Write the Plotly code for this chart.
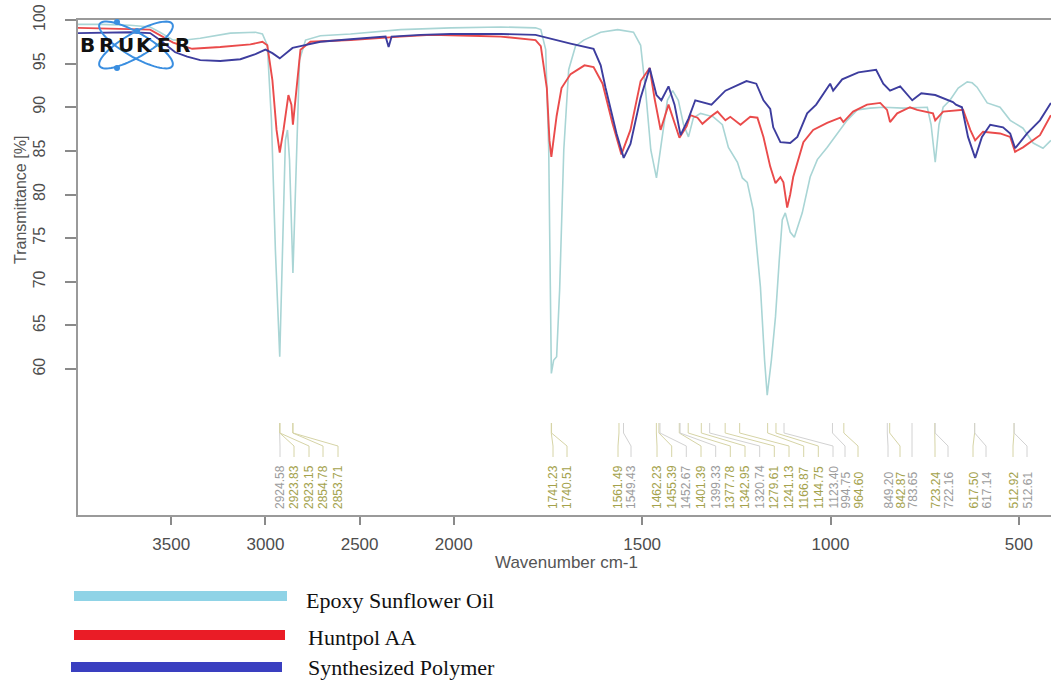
import numpy as np
import plotly.graph_objects as go

# ---------------- data ----------------
esf_wn = [3995, 3878, 3718, 3612, 3560, 3490, 3425, 3346, 3186, 3053, 3016, 2990, 2968, 2947, 2924, 2910,
          2894, 2883, 2872, 2854, 2835, 2819, 2787, 2708, 2548, 2282, 2016, 1875, 1783, 1769, 1756, 1748,
          1741, 1735, 1727, 1719, 1708, 1695, 1677, 1655, 1610, 1565, 1523, 1504, 1491, 1477, 1462, 1451,
          1433, 1419, 1404, 1390, 1377, 1364, 1345, 1311, 1287, 1271, 1247, 1234, 1221, 1205, 1186, 1175,
          1168, 1157, 1146, 1136, 1128, 1120, 1107, 1096, 1085, 1075, 1054, 1035, 1009, 974, 956, 929,
          895, 860, 807, 743, 733, 722, 712, 701, 683, 661, 637, 624, 611, 584, 550, 523, 489, 462, 436, 415]
esf_t = [99.5, 99.5, 99.4, 99.2, 98.6, 97.7, 97.7, 97.9, 98.5, 98.6, 98.4, 97.1, 88.5, 73.6, 61.4, 73.6,
         86.2, 87.4, 84.0, 71.0, 85.1, 95.4, 97.7, 98.2, 98.4, 98.9, 99.1, 99.2, 99.1, 98.9, 96.6, 85.1,
         59.5, 61.0, 61.4, 69.1, 85.1, 94.3, 97.0, 97.7, 98.6, 98.9, 98.6, 97.1, 92.0, 85.1, 81.9, 85.1,
         90.8, 91.9, 90.8, 88.0, 86.6, 88.8, 89.3, 88.9, 88.0, 85.4, 83.7, 81.9, 81.4, 78.2, 69.4, 61.0,
         57.0, 61.0, 66.0, 72.5, 77.1, 77.9, 75.7, 75.1, 76.5, 77.9, 82.0, 84.0, 85.4, 87.4, 88.5, 89.7,
         89.9, 90.0, 89.9, 90.0, 88.0, 83.7, 88.0, 90.0, 90.8, 92.2, 92.9, 92.8, 92.3, 90.5, 90.0, 88.5,
         87.6, 85.9, 85.3, 86.2]

hunt_wn = [3995, 3718, 3612, 3490, 3389, 3240, 3080, 3016, 2990, 2963, 2941, 2924, 2904, 2878, 2862, 2854,
           2835, 2814, 2761, 2548, 2282, 2122, 1955, 1875, 1783, 1769, 1753, 1746, 1741, 1735, 1727, 1714,
           1690, 1653, 1629, 1605, 1579, 1555, 1531, 1504, 1480, 1467, 1451, 1430, 1414, 1401, 1382, 1372,
           1353, 1340, 1316, 1300, 1279, 1266, 1239, 1213, 1194, 1178, 1160, 1146, 1133, 1125, 1115, 1107,
           1099, 1072, 1046, 1009, 974, 966, 940, 903, 868, 850, 842, 823, 789, 770, 728, 722, 701, 648,
           629, 616, 595, 550, 523, 510, 489, 444, 415]
hunt_t = [99.1, 99.0, 98.9, 97.4, 96.7, 96.9, 97.2, 97.5, 97.1, 93.1, 87.4, 84.8, 87.4, 91.4, 90.3, 88.0,
          92.0, 96.6, 97.5, 97.7, 98.1, 98.3, 98.2, 98.1, 97.7, 97.0, 92.2, 86.2, 84.3, 86.2, 89.0, 92.2,
          93.8, 94.8, 94.6, 92.7, 88.2, 84.6, 87.4, 93.0, 94.5, 91.0, 87.4, 90.3, 88.2, 86.5, 87.8, 89.1,
          88.8, 88.1, 89.0, 89.5, 88.5, 88.9, 88.0, 88.9, 88.8, 86.6, 83.2, 81.3, 82.0, 81.4, 78.5, 80.0,
          82.0, 86.0, 87.4, 88.2, 88.8, 88.3, 89.5, 90.3, 90.5, 89.7, 88.3, 89.3, 90.0, 89.7, 89.3, 88.5,
          89.5, 89.7, 87.4, 86.2, 87.2, 87.0, 86.6, 84.9, 85.4, 86.8, 89.1]

poly_wn = [3995, 3718, 3612, 3560, 3479, 3415, 3346, 3240, 3133, 3053, 3000, 2963, 2924, 2894, 2856, 2814,
           2708, 2548, 2362, 2346, 2330, 2176, 2016, 1875, 1783, 1690, 1653, 1629, 1610, 1597, 1568, 1549,
           1531, 1504, 1480, 1462, 1449, 1430, 1414, 1398, 1377, 1359, 1316, 1279, 1223, 1197, 1178, 1160,
           1152, 1133, 1107, 1088, 1062, 1038, 1001, 993, 969, 926, 879, 860, 842, 815, 783, 759, 722, 675,
           667, 651, 635, 616, 598, 576, 542, 523, 510, 478, 444, 415]
poly_t = [98.5, 98.6, 98.5, 97.7, 96.3, 95.8, 95.4, 95.3, 95.5, 96.1, 96.6, 96.2, 95.6, 96.1, 96.8, 97.0,
          97.5, 97.8, 98.1, 96.9, 98.1, 98.3, 98.4, 98.4, 98.3, 97.3, 96.9, 96.7, 94.8, 92.2, 87.0, 84.2,
          85.8, 91.1, 94.5, 91.4, 90.8, 92.4, 90.3, 86.8, 88.7, 90.8, 90.3, 91.9, 93.0, 92.7, 90.8, 89.8,
          87.7, 86.0, 85.9, 86.6, 89.3, 90.3, 92.7, 91.9, 93.2, 94.0, 94.3, 92.7, 91.9, 92.4, 90.8, 91.6,
          91.4, 90.6, 90.3, 90.0, 86.6, 84.2, 86.6, 88.0, 87.7, 87.0, 85.3, 87.0, 88.5, 90.5]

series_names = ["Epoxy Sunflower Oil", "Huntpol AA", "Synthesized Polymer"]

peak_wn = [2924.58, 2923.83, 2923.15, 2854.78, 2853.71, 1741.23, 1740.51, 1561.49, 1549.43, 1462.23,
           1455.39, 1452.67, 1401.39, 1399.33, 1377.78, 1342.95, 1320.74, 1279.61, 1241.13, 1166.87,
           1144.75, 1123.40, 994.75, 964.60, 849.20, 842.87, 783.65, 723.24, 722.16, 617.50, 617.14,
           512.92, 512.61]
peak_kind = ["g", "o", "o", "o", "o", "o", "o", "o", "g", "o", "o", "g", "o", "g", "o", "o", "g",
             "o", "o", "o", "o", "g", "g", "o", "g", "o", "g", "o", "g", "o", "g", "o", "g"]

x_ticks = [3500, 3000, 2500, 2000, 1500, 1000, 500]
y_ticks = [60, 65, 70, 75, 80, 85, 90, 95, 100]

# ---------------- layout helpers ----------------
W, H = 1051, 682
PL, PR, PT, PB = 78, 1051, 20, 515
X_LEFT, X_RIGHT = 3995, 414.7
Y_MIN, Y_MAX = 43.27, 100

# horizontal pixel positions of the peak-label texts (layout, as placed in the picture)
label_px = [280, 294, 309, 323, 338, 553, 567, 618, 631,
            657, 671.7, 686.3, 701, 715.7, 730.3, 745, 759.7, 774.3, 789, 803.7, 818.3, 833,
            845, 858, 888, 900, 912, 935, 948, 973, 986, 1013, 1027]


def warp(w):
    """OPUS-style axis: the region above 2000 cm-1 is drawn at half scale."""
    w = np.asarray(w, dtype=float)
    return np.where(w > 2000, 2000 + (w - 2000) / 2.0, w)


U_L, U_R = float(warp(X_LEFT)), float(warp(X_RIGHT))
PX_PER_U = (PR - PL) / (U_L - U_R)


def px_x(px):
    return (px - PL) / (PR - PL)


def px_y(py):
    return (PB - py) / (PB - PT)


def px_to_u(px):
    return U_L - (px - PL) / PX_PER_U


fig = go.Figure()

colors = ["#a9d5d5", "#ea4b4b", "#3d3d9e"]
widths = [1.6, 1.9, 1.9]
for name, wn, t, c, lw in zip(series_names, [esf_wn, hunt_wn, poly_wn], [esf_t, hunt_t, poly_t], colors, widths):
    fig.add_trace(go.Scatter(x=warp(wn), y=t, mode="lines", name=name,
                             line=dict(color=c, width=lw), hoverinfo="skip"))

shapes = []
annotations = []

# ---- peak labels with connectors ----
text_col = {"o": "#a4a24c", "g": "#9c9c9c"}
line_col = {"o": "#d6d4a6", "g": "#d2d2d2"}

y1, y2, y3, y4 = px_y(423), px_y(433), px_y(446), px_y(457)
for p, lpx, k in zip(peak_wn, label_px, peak_kind):
    pu = float(warp(p))
    lu = px_to_u(lpx)
    shapes.append(dict(type="path", xref="x", yref="paper",
                       path=f"M {pu},{y1} L {pu},{y2} L {lu},{y3} L {lu},{y4}",
                       line=dict(color=line_col[k], width=1)))
    annotations.append(dict(x=lu, y=px_y(511), xref="x", yref="paper", text=f"{p:.2f}",
                            textangle=-90, showarrow=False, xanchor="center", yanchor="bottom",
                            font=dict(family="Liberation Sans, Arial", size=12, color=text_col[k])))

# ---- Bruker logo ----
def ellipse_path(cx, cy, a, b, ang_deg, n=72):
    th = np.linspace(0, 2 * np.pi, n)
    ang = np.deg2rad(ang_deg)
    xs = cx + a * np.cos(th) * np.cos(ang) - b * np.sin(th) * np.sin(ang)
    ys = cy + a * np.cos(th) * np.sin(ang) + b * np.sin(th) * np.cos(ang)
    pts = [f"{px_x(x):.5f},{px_y(y):.5f}" for x, y in zip(xs, ys)]
    return "M " + " L ".join(pts) + " Z"


logo_blue = "#3a8ee0"
for ang in (30, -30):
    shapes.append(dict(type="path", xref="paper", yref="paper", path=ellipse_path(136, 45, 42, 12, ang),
                       line=dict(color=logo_blue, width=2)))
for dx, dy in [(117, 22), (117, 68), (137, 31)]:
    r = 3
    shapes.append(dict(type="circle", xref="paper", yref="paper",
                       x0=px_x(dx - r), x1=px_x(dx + r), y0=px_y(dy + r), y1=px_y(dy - r),
                       fillcolor=logo_blue, line=dict(width=0)))
for i, ch in enumerate("BRUKER"):
    annotations.append(dict(x=px_x(87.5 + 19 * i), y=px_y(45), xref="paper", yref="paper", text=f"<b>{ch}</b>",
                            showarrow=False, xanchor="center", yanchor="middle",
                            font=dict(family="DejaVu Sans", size=20, color="#111111")))

# ---- axis titles ----
annotations.append(dict(x=px_x(20), y=px_y(200), xref="paper", yref="paper", text="Transmittance [%]",
                        textangle=-90, showarrow=False, xanchor="center", yanchor="middle",
                        font=dict(family="Liberation Sans, Arial", size=16, color="#555555")))
annotations.append(dict(x=px_x(566), y=px_y(562), xref="paper", yref="paper", text="Wavenumber cm-1",
                        showarrow=False, xanchor="center", yanchor="middle",
                        font=dict(family="Liberation Sans, Arial", size=17, color="#555555")))

# ---- custom legend ----
leg_colors = ["#8fd3e6", "#ea1c26", "#3a3fc0"]
leg_bar = [(74, 287, 596), (74, 285, 635), (71, 282, 667)]
leg_text = [(304, 600), (306, 637), (306, 667)]
for name, c, (x0, x1, yy), (tx, ty) in zip(series_names, leg_colors, leg_bar, leg_text):
    shapes.append(dict(type="line", xref="paper", yref="paper", x0=px_x(x0), x1=px_x(x1),
                       y0=px_y(yy), y1=px_y(yy), line=dict(color=c, width=10)))
    annotations.append(dict(x=px_x(tx), y=px_y(ty), xref="paper", yref="paper", text=name,
                            showarrow=False, xanchor="left", yanchor="middle",
                            font=dict(family="Liberation Serif, Times New Roman", size=22, color="#111111")))

fig.update_layout(
    width=W, height=H, autosize=False,
    margin=dict(l=PL, r=W - PR, t=PT, b=H - PB, pad=0),
    paper_bgcolor="white", plot_bgcolor="white",
    showlegend=False,
    shapes=shapes, annotations=annotations,
    xaxis=dict(range=[U_L, U_R], tickmode="array", tickvals=warp(x_ticks).tolist(),
               ticktext=[str(t) for t in x_ticks], ticks="outside", ticklen=8, tickwidth=1.5,
               tickcolor="#8a8a8a", showline=True, linecolor="#9a9a9a", linewidth=2, mirror=True,
               showgrid=False, zeroline=False, ticklabelstandoff=5,
               tickfont=dict(family="Liberation Sans, Arial", size=17, color="#4d4d4d")),
    yaxis=dict(range=[Y_MIN, Y_MAX], tickmode="array", tickvals=y_ticks, tickangle=-90,
               ticks="outside", ticklen=11, tickwidth=1.5, tickcolor="#8a8a8a",
               showline=True, linecolor="#9a9a9a", linewidth=2, mirror=False,
               showgrid=False, zeroline=False, ticklabelstandoff=14,
               tickfont=dict(family="Liberation Sans, Arial", size=16, color="#4d4d4d")),
)

fig.write_html("out.html", config={"displayModeBar": False},
               post_script="document.body.style.margin='0px';")
